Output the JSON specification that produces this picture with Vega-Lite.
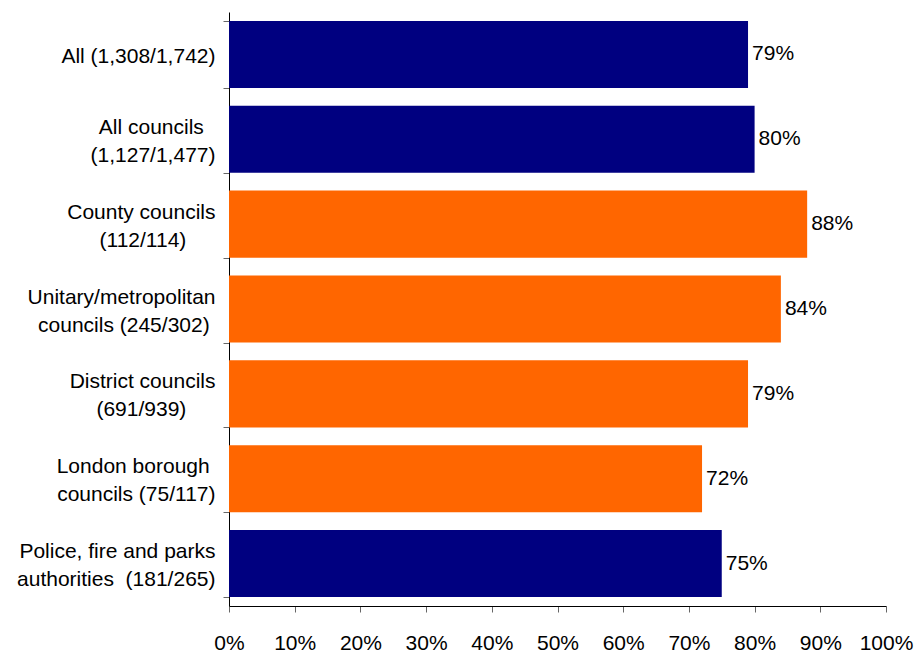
{
  "$schema": "https://vega.github.io/schema/vega-lite/v6.json",
  "autosize": {"type": "none"},
  "padding": {"left": 229, "top": 12, "right": 34, "bottom": 48},
  "width": 657,
  "height": 594,
  "background": "white",
  "config": {
    "view": {"stroke": null},
    "font": "Liberation Sans",
    "axis": {"labelFont": "Liberation Sans", "labelFontSize": 21, "labelColor": "#000000", "domainColor": "#000000", "tickColor": "#666666", "grid": false, "title": null}
  },
  "data": {
    "values": [
      {"category": "All (1,308/1,742)", "value": 0.79, "group": "overall"},
      {"category": "All councils\u00a0\u00a0|(1,127/1,477)", "value": 0.80, "group": "overall"},
      {"category": "County councils|(112/114)\u00a0\u00a0\u00a0\u00a0\u00a0", "value": 0.88, "group": "council"},
      {"category": "Unitary/metropolitan|councils (245/302)\u00a0", "value": 0.84, "group": "council"},
      {"category": "District councils|(691/939)\u00a0\u00a0\u00a0\u00a0\u00a0", "value": 0.79, "group": "council"},
      {"category": "London borough\u00a0|councils (75/117)", "value": 0.72, "group": "council"},
      {"category": "Police, fire and parks|authorities\u00a0 (181/265)", "value": 0.75, "group": "overall"}
    ]
  },
  "encoding": {
    "y": {
      "field": "category",
      "type": "nominal",
      "sort": null,
      "scale": {"paddingInner": 0.21, "paddingOuter": 0.105},
      "axis": {
        "labelExpr": "indexof(datum.label, '|') >= 0 ? [split(datum.label, '|')[0] + '\u200b', '\u200b', split(datum.label, '|')[1] + '\u200b'] : ['\u200b', datum.label]",
        "labelLineHeight": 14,
        "labelLimit": 260,
        "labelPadding": 8,
        "labelOffset": -12,
        "tickSize": 6,
        "tickBand": "extent",
        "domainWidth": 1
      }
    },
    "x": {
      "field": "value",
      "type": "quantitative",
      "scale": {"domain": [0, 1], "nice": false},
      "axis": {
        "values": [0, 0.1, 0.2, 0.3, 0.4, 0.5, 0.6, 0.7, 0.8, 0.9, 1],
        "format": ".0%",
        "tickSize": 6,
        "labelPadding": 20,
        "labelFlush": false
      }
    }
  },
  "layer": [
    {
      "mark": {"type": "bar"},
      "encoding": {
        "color": {
          "field": "group",
          "type": "nominal",
          "scale": {"domain": ["overall", "council"], "range": ["#000080", "#FF6600"]},
          "legend": null
        }
      }
    },
    {
      "mark": {"type": "text", "align": "left", "baseline": "middle", "dx": 4, "fontSize": 21, "color": "#000000"},
      "encoding": {
        "text": {"field": "value", "type": "quantitative", "format": ".0%"}
      }
    }
  ]
}
